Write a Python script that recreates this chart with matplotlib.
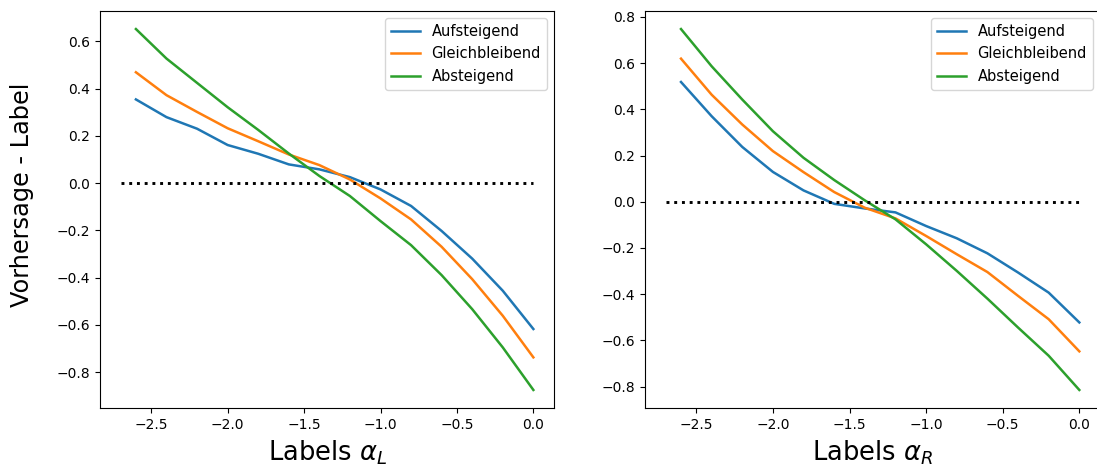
import numpy as np
import matplotlib
matplotlib.use("Agg")
import matplotlib.pyplot as plt

x = [-2.6, -2.4, -2.2, -2.0, -1.8, -1.6, -1.4, -1.2, -1.0, -0.8, -0.6, -0.4, -0.2, 0.0]

left_auf = [0.354, 0.279, 0.230, 0.161, 0.124, 0.079, 0.058, 0.025, -0.027, -0.097, -0.203, -0.320, -0.456, -0.618]
left_gleich = [0.469, 0.372, 0.301, 0.232, 0.177, 0.121, 0.076, 0.015, -0.065, -0.154, -0.270, -0.407, -0.562, -0.738]
left_ab = [0.652, 0.527, 0.424, 0.321, 0.225, 0.125, 0.030, -0.055, -0.161, -0.263, -0.390, -0.534, -0.696, -0.876]

right_auf = [0.518, 0.370, 0.237, 0.129, 0.049, -0.009, -0.029, -0.046, -0.105, -0.158, -0.223, -0.306, -0.393, -0.522]
right_gleich = [0.619, 0.463, 0.334, 0.219, 0.128, 0.042, -0.026, -0.072, -0.148, -0.227, -0.304, -0.407, -0.508, -0.647]
right_ab = [0.747, 0.586, 0.442, 0.305, 0.190, 0.094, 0.006, -0.076, -0.184, -0.299, -0.419, -0.544, -0.666, -0.814]

series_names = ["Aufsteigend", "Gleichbleibend", "Absteigend"]
zero_x = [-2.7, 0.0]
zero_y = [0.0, 0.0]

W, H = 1097, 472
fig = plt.figure(figsize=(W / 100, H / 100), dpi=100)
ax1 = fig.add_axes([100 / W, (H - 408) / H, 454 / W, 397 / H])
ax2 = fig.add_axes([645 / W, (H - 408) / H, 455 / W, 397 / H])

for ax, data, lab in [
    (ax1, [left_auf, left_gleich, left_ab], r"Labels $\alpha_L$"),
    (ax2, [right_auf, right_gleich, right_ab], r"Labels $\alpha_R$"),
]:
    for ys, name in zip(data, series_names):
        ax.plot(x, ys, label=name, lw=1.8)
    ax.plot(zero_x, zero_y, ":", color="black", lw=2.1)
    ax.set_xlabel(lab, fontsize=18.5, labelpad=5)
    ax.legend(loc="upper right", fontsize=10.5)
    ax.tick_params(labelsize=10)

ax1.set_ylabel("Vorhersage - Label", fontsize=17.3)
ax1.yaxis.set_label_coords(-0.146, 0.536)

fig.savefig("out.png", dpi=100)
